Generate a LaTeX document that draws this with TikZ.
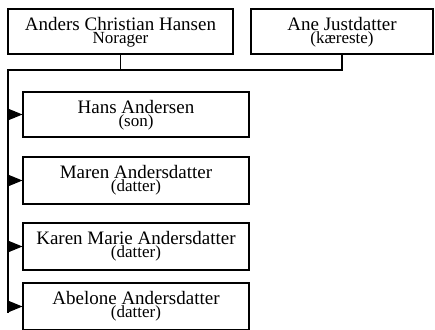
\documentclass[tikz,border=0pt]{standalone}
\usepackage{fontspec}
\setmainfont{Liberation Serif}
\usetikzlibrary{arrows.meta}
\begin{document}
\begin{tikzpicture}[x=1pt,y=-1pt,
  person/.style={draw, line width=1.1pt, inner sep=0pt, minimum width=226pt, minimum height=47pt},
  nametext/.style={anchor=base, inner sep=0pt, font=\fontsize{19}{21}\selectfont},
  subtext/.style={anchor=base, inner sep=0pt, font=\fontsize{17}{19}\selectfont},
  link/.style={line width=1.1pt},
  kid/.style={line width=1.1pt, -{Triangle[length=15pt,width=12pt]}}]
\useasboundingbox (0,0) rectangle (435,329);
\clip (0,0) rectangle (435,329);
% parents
\node[person, minimum width=225pt, minimum height=45pt] (b1) at (120.5,31.5) {};
\node[nametext] (b1n) at ([yshift=-22.5pt]b1.north) {Anders Christian Hansen};
\node[subtext]  (b1s) at ([yshift=-35.5pt]b1.north) {Norager};
\node[person, minimum width=182pt, minimum height=45pt] (b2) at (342,31.5) {};
\node[nametext] (b2n) at ([yshift=-22.5pt]b2.north) {Ane Justdatter};
\node[subtext]  (b2s) at ([yshift=-35.5pt]b2.north) {(kæreste)};
% children
\node[person, minimum height=45pt] (c1) at (136,114.5) {};
\node[nametext] (c1n) at ([yshift=-22pt]c1.north) {Hans Andersen};
\node[subtext]  (c1s) at ([yshift=-35.5pt]c1.north) {(son)};
\node[person] (c2) at (136,180.5) {};
\node[nametext] (c2n) at ([yshift=-22pt]c2.north) {Maren Andersdatter};
\node[subtext]  (c2s) at ([yshift=-35.5pt]c2.north) {(datter)};
\node[person] (c3) at (136,246.5) {};
\node[nametext] (c3n) at ([yshift=-22pt]c3.north) {Karen Marie Andersdatter};
\node[subtext]  (c3s) at ([yshift=-35.5pt]c3.north) {(datter)};
\node[person] (c4) at (136,306.5) {};
\node[nametext] (c4n) at ([yshift=-22pt]c4.north) {Abelone Andersdatter};
\node[subtext]  (c4s) at ([yshift=-35.5pt]c4.north) {(datter)};
% connectors
\coordinate (jl) at (8,70);
\draw[link] (b1.south) -- (b1.south |- jl);
\draw[link] (b2.south) |- (jl) -- ([yshift=-6pt]jl |- c4.west);
\draw[kid] (jl |- c1.west) -- (c1.west);
\draw[kid] (jl |- c2.west) -- (c2.west);
\draw[kid] (jl |- c3.west) -- (c3.west);
\draw[kid] (jl |- c4.west) -- (c4.west);
\end{tikzpicture}
\end{document}
